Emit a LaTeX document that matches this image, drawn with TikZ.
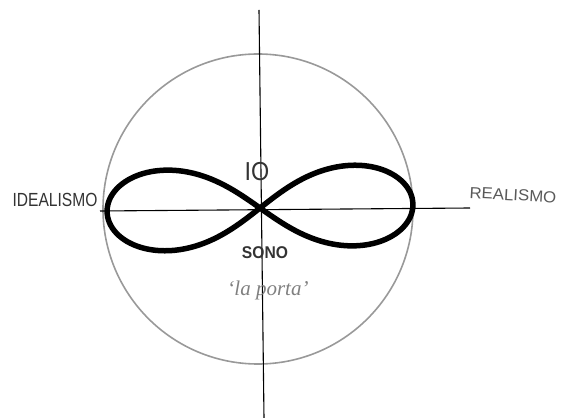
\documentclass[tikz,border=0pt]{standalone}
\usepackage{fontspec}
\setmainfont{Liberation Sans}
\newfontfamily\handserif{Liberation Serif}
\begin{document}
\begin{tikzpicture}[x=1pt,y=1pt,
  axis/.style={black,line width=1.1pt},
  ring/.style={draw=black!40,line width=1.6pt},
  loopline/.style={black,line width=5.5pt,line join=round},
  lab/.style={inner sep=0pt,text=black!80}]
\useasboundingbox (0,0) rectangle (563,418);
\coordinate (O) at (260,210);
% circle
\node[ring,circle,minimum size=310pt,inner sep=0pt] (ring) at (258,209) {};
% axes
\coordinate (vtop) at (259,408);
\coordinate (vbot) at (264,0);
\coordinate (hl) at (100,207);
\coordinate (hr) at (470,210);
\draw[axis] (vtop) -- (vbot);
\draw[axis] (hl) -- (hr);
% lemniscate
\draw[loopline,rotate around={1.5:(O)}] plot[smooth cycle,domain=0:358,samples=120,variable=\t]
  ({260+153*cos(\t)/(1+sin(\t)^2)},{210+114*sin(\t)*cos(\t)/(1+sin(\t)^2)});
% labels
\node[lab,xscale=0.82] (ideal) at (55,218) {\fontsize{19}{19}\selectfont IDEALISMO};
\node[lab,xscale=1.05,rotate=-3,text=black!65] (real) at (513,223) {\fontsize{16}{16}\selectfont REALISMO};
\node[lab,xscale=0.9] (io) at (257,246) {\fontsize{26}{26}\selectfont IO};
\node[lab,xscale=0.92] (sono) at (265,165) {\fontsize{17}{17}\selectfont\bfseries SONO};
\node[lab,text=black!50] (porta) at (268,128) {\fontsize{21}{21}\selectfont\handserif\itshape ‘la porta’};
\end{tikzpicture}
\end{document}
